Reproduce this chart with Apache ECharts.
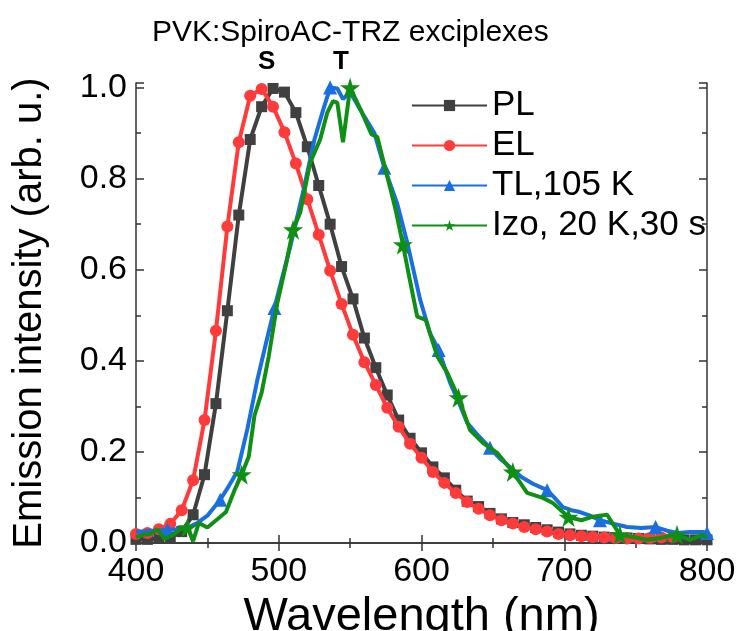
<!DOCTYPE html>
<html>
<head>
<meta charset="utf-8">
<script src="https://cdn.jsdelivr.net/npm/echarts@6/dist/echarts.min.js"></script>
<style>
html,body{margin:0;padding:0;background:#fff;}
#chart{width:737px;height:631px;}
</style>
</head>
<body>
<div id="chart"></div>
<script>
// ---- data ----
const plWl  = [400,408,416,424,432,440,448,456,464,472,480,488,496,504,512,520,528,536,544,552,560,568,576,584,592,600,608,616,624,632,640,648,656,664,672,680,688,696,704,712,720,728,736,744,752,760,768,776,784,792,800];
const plVal = [0.008,0.008,0.010,0.013,0.025,0.062,0.150,0.306,0.510,0.720,0.886,0.958,0.998,0.990,0.945,0.870,0.785,0.700,0.607,0.536,0.450,0.385,0.325,0.270,0.230,0.198,0.167,0.143,0.116,0.092,0.080,0.065,0.053,0.045,0.040,0.034,0.029,0.024,0.020,0.017,0.015,0.013,0.012,0.011,0.010,0.009,0.008,0.008,0.007,0.007,0.007];

const elWl  = [400,408,416,424,432,440,448,456,464,472,480,488,496,504,512,520,528,536,544,552,560,568,576,584,592,600,608,616,624,632,640,648,656,664,672,680,688,696,704,712,720,728,736,744,752,760,768,776];
const elVal = [0.020,0.022,0.030,0.042,0.072,0.138,0.270,0.466,0.695,0.880,0.982,0.997,0.958,0.902,0.833,0.755,0.677,0.598,0.525,0.457,0.397,0.347,0.297,0.255,0.218,0.187,0.156,0.132,0.110,0.090,0.075,0.061,0.050,0.043,0.035,0.030,0.025,0.020,0.017,0.015,0.013,0.012,0.011,0.010,0.010,0.011,0.012,0.013];

const tlWl  = [400,405,410,415,422,430,437,443,450,459,465,471,478,485,490,497,503,508,517,525,531,536,541,545,550,557,567,574,583,590,599,606,612,620,626,632,640,648,655,662,670,678,688,693,699,705,711,718,725,735,744,754,764,772,779,788,797,800];
const tlVal = [0.025,0.025,0.027,0.027,0.029,0.030,0.035,0.044,0.060,0.095,0.125,0.157,0.250,0.358,0.425,0.516,0.590,0.650,0.770,0.886,0.950,1.000,0.998,0.975,0.990,0.952,0.900,0.824,0.745,0.660,0.535,0.460,0.424,0.352,0.310,0.264,0.235,0.209,0.185,0.167,0.145,0.130,0.116,0.100,0.079,0.072,0.068,0.060,0.050,0.042,0.035,0.033,0.035,0.027,0.022,0.024,0.024,0.022];
const tlMarkWl = [422,459,497,536,574,612,648,688,725,764,800];

const izoWl  = [400,405,410,415,420,426,431,436,440,444,450,457,463,469,474,479,483,488,493,499,505,510,515,522,529,534,538,541,545,550,558,565,569,576,582,587,592,597,603,611,618,626,634,643,653,664,674,685,692,703,712,719,730,739,748,758,767,779,788,797,800];
const izoVal = [0.013,0.018,0.020,0.030,0.009,0.018,0.030,0.034,0.004,0.044,0.034,0.052,0.068,0.116,0.150,0.190,0.280,0.330,0.410,0.527,0.610,0.688,0.725,0.835,0.886,0.945,0.970,0.967,0.880,1.000,0.947,0.897,0.892,0.805,0.730,0.655,0.575,0.497,0.490,0.410,0.374,0.319,0.248,0.220,0.198,0.156,0.110,0.099,0.088,0.057,0.050,0.057,0.062,0.018,0.013,0.007,0.011,0.018,0.007,0.018,0.012];
const izoMarkWl = [436,474,510,550,587,626,664,703,739,779];

const seriesNames = ['PL','EL','TL,105 K','Izo, 20 K,30 s'];
const xTicks = [400,500,600,700,800];
const chartTitle = 'PVK:SpiroAC-TRZ exciplexes';
const peakLabels = ['S','T'];

// ---- styles ----
const FONT = '"Liberation Sans", Arial, sans-serif';
const colors = ['#404040','#ff3a3a','#1a6fe0','#0f8f14'];
const STAR = 'path://M50,0 L61.2,34.5 L97.6,34.5 L68.2,55.9 L79.4,90.5 L50,69.1 L20.6,90.5 L31.8,55.9 L2.4,34.5 L38.8,34.5 Z';

function pairs(xs, ys){ return xs.map((x,i)=>[x, ys[i]]); }
function marked(xs, ys, marks){
  return xs.map((x,i)=> marks.indexOf(x) >= 0 ? {value:[x, ys[i]]} : {value:[x, ys[i]], symbol:'none'});
}

const chart = echarts.init(document.getElementById('chart'), null, {renderer:'canvas'});

const axisLineStyle = {color:'#333', width:1.5};
const option = {
  animation:false,
  backgroundColor:'#fff',
  textStyle:{fontFamily:FONT},
  title:{
    text: chartTitle, left: 147, top: 13,
    textStyle:{fontFamily:FONT, fontSize:30, fontWeight:'normal', color:'#000'}
  },
  graphic:[
    {type:'text', left:258, top:49, style:{text:peakLabels[0], font:'bold 26px '+FONT, fill:'#000'}},
    {type:'text', left:333, top:49, style:{text:peakLabels[1], font:'bold 26px '+FONT, fill:'#000'}}
  ],
  legend:{
    orient:'vertical', left:406, top:83,
    itemWidth:75, itemHeight:14, itemGap:5,
    textStyle:{fontFamily:FONT, fontSize:35, color:'#000', padding:[0,0,0,0]},
    data: seriesNames
  },
  grid:{left:136, right:30, top:83, bottom:88, containLabel:false, outerBoundsMode:'none'},
  xAxis:[{
    type:'value', min:400, max:800, interval:100,
    name:'Wavelength (nm)', nameLocation:'middle', nameGap:41,
    nameTextStyle:{fontFamily:FONT, fontSize:47, color:'#000'},
    axisLine:{show:true, lineStyle:axisLineStyle},
    axisTick:{show:true, inside:true, length:8, lineStyle:axisLineStyle},
    minorTick:{show:true, splitNumber:2, length:5, lineStyle:axisLineStyle},
    axisLabel:{fontFamily:FONT, fontSize:34, color:'#000', margin:12,
      formatter:v=> xTicks.indexOf(v)>=0 ? String(v) : ''},
    splitLine:{show:false}
  },{
    type:'value', min:400, max:800, interval:100, position:'top',
    axisLine:{show:true, lineStyle:axisLineStyle},
    axisTick:{show:true, inside:true, length:8, lineStyle:axisLineStyle},
    minorTick:{show:true, splitNumber:2, length:5, lineStyle:axisLineStyle},
    axisLabel:{show:false}, splitLine:{show:false}
  }],
  yAxis:[{
    type:'value', min:0, max:1.01, interval:0.2,
    name:'Emission intensity (arb. u.)', nameLocation:'middle', nameGap:86,
    nameTextStyle:{fontFamily:FONT, fontSize:40, color:'#000'},
    axisLine:{show:true, lineStyle:axisLineStyle},
    axisTick:{show:true, inside:true, length:8, lineStyle:axisLineStyle},
    minorTick:{show:true, splitNumber:2, length:5, lineStyle:axisLineStyle},
    axisLabel:{fontFamily:FONT, fontSize:34, color:'#000', margin:9,
      formatter:v=> Math.abs(v*5 - Math.round(v*5))<1e-6 ? v.toFixed(1) : ''},
    splitLine:{show:false}
  },{
    type:'value', min:0, max:1.01, interval:0.2, position:'right',
    axisLine:{show:true, lineStyle:axisLineStyle},
    axisTick:{show:true, inside:true, length:8, lineStyle:axisLineStyle},
    minorTick:{show:true, splitNumber:2, length:5, lineStyle:axisLineStyle},
    axisLabel:{show:false}, splitLine:{show:false}
  }],
  series:[
    {name:seriesNames[0], type:'line', data:pairs(plWl, plVal), symbol:'rect', symbolSize:11, showAllSymbol:true,
     lineStyle:{color:colors[0], width:4}, itemStyle:{color:colors[0]}, z:3},
    {name:seriesNames[1], type:'line', data:pairs(elWl, elVal), symbol:'circle', symbolSize:12, showAllSymbol:true,
     lineStyle:{color:colors[1], width:4}, itemStyle:{color:colors[1]}, z:4},
    {name:seriesNames[2], type:'line', data:marked(tlWl, tlVal, tlMarkWl), symbol:'triangle', symbolSize:14, showAllSymbol:true,
     lineStyle:{color:colors[2], width:4}, itemStyle:{color:colors[2]}, z:5},
    {name:seriesNames[3], type:'line', data:marked(izoWl, izoVal, izoMarkWl), symbol:STAR, symbolSize:20, showAllSymbol:true,
     lineStyle:{color:colors[3], width:4}, itemStyle:{color:colors[3]}, z:6}
  ]
};
chart.setOption(option);
</script>
</body>
</html>
